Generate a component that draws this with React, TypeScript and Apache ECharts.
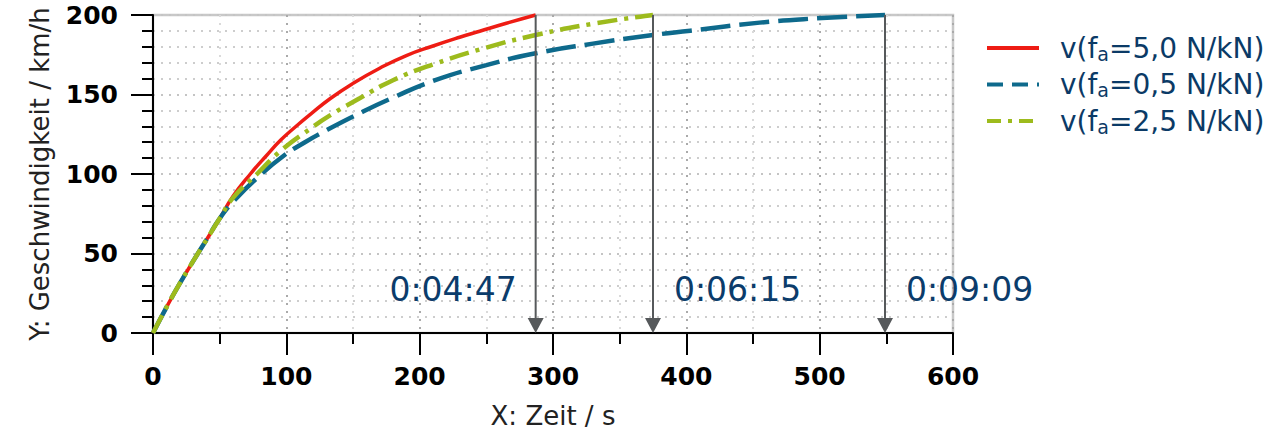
import React, { useEffect, useRef } from 'react';
import * as echarts from 'echarts';

// ---- data ----
const faValues = ['5,0', '0,5', '2,5'];
const seriesNames = faValues.map((f) => `v(fa=${f} N/kN)`);
const seriesColors = ['#ee1c14', '#0e6a8c', '#9dbb1d'];

const redT = [0, 10, 20, 30, 40, 50, 60, 73, 85, 96, 108, 118, 133, 150, 170, 190, 210, 230, 245, 265, 287];
const redV = [0, 16, 31, 45, 58.5, 72, 86, 100, 111.5, 121.5, 130.5, 137.5, 147.5, 157, 166.5, 174.5, 180.5, 186, 189.8, 194.8, 200];

const blueT = [0, 10, 20, 30, 40, 50, 60, 80, 98, 113, 130, 155, 180, 210, 250, 287, 330, 375, 403, 455, 498, 549];
const blueV = [0, 16, 31, 45, 58.5, 72, 82.5, 99, 111.5, 119.5, 127.5, 138.2, 148, 158.5, 168.5, 175.9, 182, 187.4, 190.1, 195.2, 197.9, 200];

const greenT = [0, 10, 20, 30, 40, 50, 60, 78, 95, 118, 135, 155, 180, 212, 250, 287, 330, 375];
const greenV = [0, 16, 31, 45, 58.5, 72, 85, 100, 114, 128.5, 138, 147.6, 159, 169.5, 179.5, 187.4, 194.5, 200];

const arrowTimes = [287, 375, 549];
const arrowLabels = ['0:04:47', '0:06:15', '0:09:09'];
const arrowLabelSide = ['left', 'right', 'right'];

const X_MIN = 0, X_MAX = 600, X_STEP = 100;
const Y_MIN = 0, Y_MAX = 200, Y_STEP = 50;

const zip = (a: number[], b: number[]) => a.map((v, i) => [v, b[i]]);

const FONT = 'DejaVu Sans';
const TEXT_BLUE = '#0b3a66';

export default function App() {
  const ref = useRef<HTMLDivElement>(null);

  useEffect(() => {
    if (!ref.current) return;
    const chart = echarts.init(ref.current, undefined, { renderer: 'svg' });

    const lineTypes: any[] = ['solid', [30, 9], [20, 7, 4, 7]];
    const legendTypes: any[] = ['solid', [16, 9], [14, 7, 4, 7]];
    const widths = [3.5, 4.5, 4.5];
    const datasets = [zip(redT, redV), zip(blueT, blueV), zip(greenT, greenV)];

    const axisBlack = { color: '#000', width: 2 };

    const option: any = {
      animation: false,
      grid: {
        left: 153,
        right: 326,
        top: 15,
        bottom: 102,
        show: true,
        borderColor: '#c8c8c8',
        borderWidth: 2.5,
        backgroundColor: 'transparent',
      },
      legend: {
        orient: 'vertical',
        left: 985,
        top: 33,
        padding: 0,
        itemWidth: 52,
        itemHeight: 14,
        itemGap: 6.5,
        itemStyle: { opacity: 0, borderWidth: 0 },
        data: seriesNames.map((n, i) => ({
          name: n,
          itemStyle: { opacity: 0, borderWidth: 0 },
          lineStyle: { type: legendTypes[i], width: 4, color: seriesColors[i] },
        })),
        formatter: (name: string) => {
          const i = seriesNames.indexOf(name);
          return `{first|v(f}{sub|a}{m|=${faValues[i]} N/kN)}`;
        },
        textStyle: {
          fontFamily: FONT,
          fontSize: 28,
          color: TEXT_BLUE,
          lineHeight: 30,
          rich: {
            first: { fontFamily: FONT, fontSize: 28, color: TEXT_BLUE, lineHeight: 30, padding: [0, 0, 0, 16] },
            m: { fontFamily: FONT, fontSize: 28, color: TEXT_BLUE, lineHeight: 30 },
            sub: { fontFamily: FONT, fontSize: 19, color: TEXT_BLUE, lineHeight: 10, verticalAlign: 'bottom' },
          },
        },
      },
      xAxis: {
        type: 'value',
        min: X_MIN,
        max: X_MAX,
        interval: X_STEP,
        name: 'X: Zeit / s',
        nameLocation: 'middle',
        nameGap: 70,
        nameTextStyle: { fontFamily: FONT, fontSize: 26, color: '#222' },
        axisLine: { show: true, onZero: false, lineStyle: axisBlack },
        axisTick: { show: true, length: 22, lineStyle: axisBlack },
        minorTick: { show: true, splitNumber: 2, length: 11, lineStyle: axisBlack },
        axisLabel: { margin: 31, fontFamily: FONT, fontWeight: 'bold', fontSize: 25, color: '#000' },
        splitLine: { show: true, lineStyle: { type: [2, 6], color: '#aaaaaa', width: 2 } },
        minorSplitLine: { show: true, lineStyle: { type: [2, 6], color: '#dadada', width: 2 } },
      },
      yAxis: {
        type: 'value',
        min: Y_MIN,
        max: Y_MAX,
        interval: Y_STEP,
        name: 'Y: Geschwindigkeit / km/h',
        nameLocation: 'middle',
        nameGap: 100,
        nameRotate: 90,
        nameTextStyle: { fontFamily: FONT, fontSize: 26, color: '#222' },
        axisLine: { show: true, onZero: false, lineStyle: axisBlack },
        axisTick: { show: true, length: 22, lineStyle: axisBlack },
        minorTick: { show: true, splitNumber: 5, length: 11, lineStyle: axisBlack },
        axisLabel: { margin: 35, fontFamily: FONT, fontWeight: 'bold', fontSize: 25, color: '#000' },
        splitLine: { show: true, lineStyle: { type: [2, 6], color: '#c4c4c4', width: 2 } },
        minorSplitLine: { show: true, lineStyle: { type: [2, 6], color: '#cdcdcd', width: 2 } },
      },
      series: [
        ...seriesNames.map((n, i) => ({
          name: n,
          type: 'line',
          data: datasets[i],
          symbol: 'none',
          smooth: true,
          clip: false,
          z: 2 + i,
          lineStyle: { color: seriesColors[i], width: widths[i], type: lineTypes[i] },
          itemStyle: { color: seriesColors[i] },
        })),
        {
          type: 'custom',
          name: 'arrows',
          clip: false,
          z: 10,
          silent: true,
          data: arrowTimes.map((t, i) => [t, i]),
          renderItem: (params: any, api: any) => {
            const t = api.value(0);
            const i = params.dataIndex;
            const top = api.coord([t, Y_MAX]);
            const bot = api.coord([t, Y_MIN]);
            const headH = 15;
            const headW = 8;
            const left = arrowLabelSide[i] === 'left';
            return {
              type: 'group',
              children: [
                {
                  type: 'line',
                  shape: { x1: top[0], y1: top[1], x2: bot[0], y2: bot[1] - headH + 1 },
                  style: { stroke: '#56595b', lineWidth: 2 },
                },
                {
                  type: 'polygon',
                  shape: {
                    points: [
                      [bot[0] - headW, bot[1] - headH],
                      [bot[0] + headW, bot[1] - headH],
                      [bot[0], bot[1]],
                    ],
                  },
                  style: { fill: '#56595b' },
                },
                {
                  type: 'text',
                  x: left ? bot[0] - 19 : bot[0] + 21,
                  y: bot[1] - 44,
                  style: {
                    text: arrowLabels[i],
                    align: left ? 'right' : 'left',
                    verticalAlign: 'middle',
                    fontFamily: FONT,
                    fontSize: 33,
                    fill: '#0b3c6b',
                  },
                },
              ],
            };
          },
        },
      ],
    };

    chart.setOption(option);
    return () => chart.dispose();
  }, []);

  return (
    <div
      ref={ref}
      style={{ position: 'fixed', left: 0, top: 0, width: 1279, height: 435, background: '#fff' }}
    />
  );
}
